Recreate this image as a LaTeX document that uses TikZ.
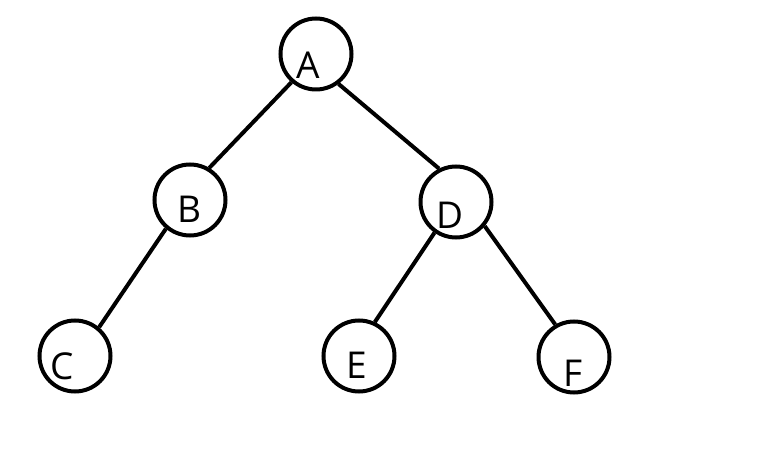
\documentclass[tikz,border=0pt]{standalone}
\usepackage{fontspec}
\setsansfont{Open Sans}
\begin{document}
\begin{tikzpicture}[x=1pt,y=-1pt,
                vertex/.style={circle,draw,line width=4pt,minimum size=71pt,inner sep=0pt},
                letter/.style={font=\sffamily\fontsize{37}{37}\selectfont,inner sep=0pt},
                edge/.style={line width=4pt}]
                \useasboundingbox (0,0) rectangle (780,470);
                \node[vertex,label={[letter,shift={(-8,11)}]center:A}] (A) at (316,54) {};
                \node[vertex,label={[letter,shift={(-1,9)}]center:B}] (B) at (190,200) {};
                \node[vertex,label={[letter,shift={(-6,13)}]center:D}] (D) at (456,202) {};
                \node[vertex,label={[letter,shift={(-13,10)}]center:C}] (C) at (75,356) {};
                \node[vertex,label={[letter,shift={(-2,9)}]center:E}] (E) at (359,356) {};
                \node[vertex,label={[letter,shift={(-1,16)}]center:F}] (F) at (574,357) {};
                \draw[edge] (A.229) -- (B.59);
                \draw[edge] (A.307) -- (D.117);
                \draw[edge] (B.230) -- (C.50);
                \draw[edge] (D.235) -- (E.65);
                \draw[edge] (D.320) -- (F.120);
            \end{tikzpicture}
\end{document}
